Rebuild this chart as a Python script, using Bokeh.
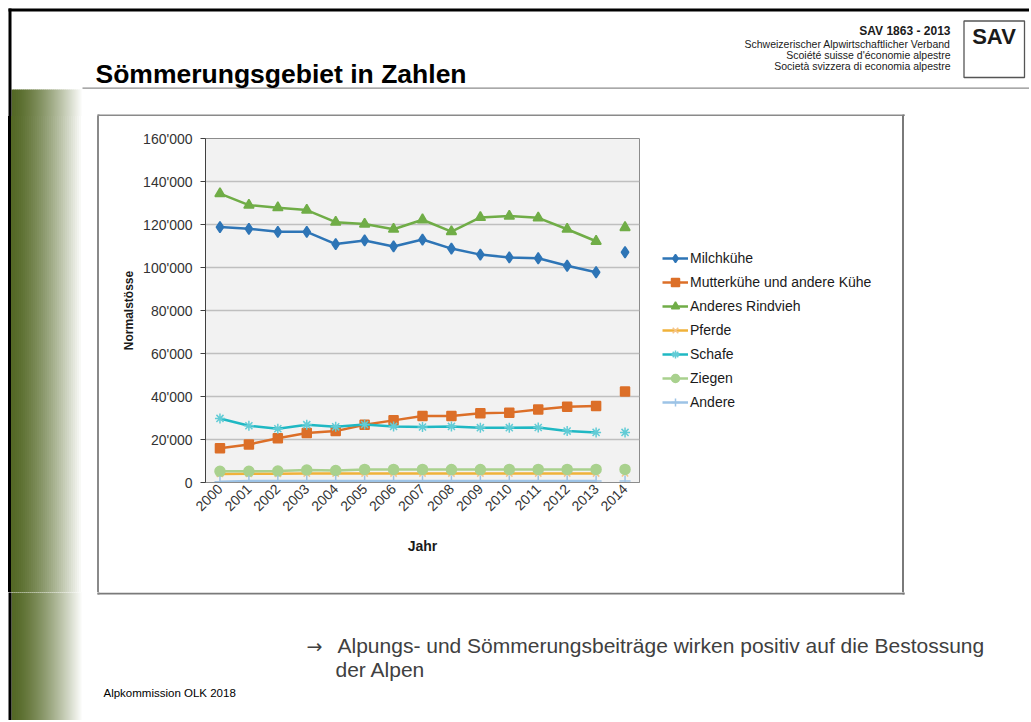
import math
from bokeh.plotting import figure
from bokeh.models import (FactorRange, Range1d, FixedTicker, Legend, LegendItem,
                          ColumnDataSource, Div)
from bokeh.layouts import column, row
from bokeh.core.properties import value
from bokeh.embed import file_html
from bokeh.resources import INLINE

# ---------------- data ----------------
years = ["2000", "2001", "2002", "2003", "2004", "2005", "2006", "2007",
         "2008", "2009", "2010", "2011", "2012", "2013", "2014"]

milchkuehe = [118800, 118000, 116600, 116600, 110900, 112600, 109800, 113000,
              108800, 106000, 104700, 104300, 100800, 97800, 107100]
mutterkuehe = [15900, 17700, 20600, 23000, 23900, 26900, 28900, 30900,
               30900, 32200, 32500, 33900, 35200, 35600, 42300]
anderes_rindvieh = [134400, 129000, 127800, 126700, 121100, 120200, 117800, 122200,
                    116700, 123300, 123900, 123100, 117800, 112200, 118600]
pferde = [4000, 4100, 4100, 4200, 4200, 4200, 4200, 4200,
          4200, 4200, 4200, 4200, 4200, 4200, 4300]
schafe = [29800, 26400, 25000, 26900, 25900, 27000, 26100, 25800,
          26100, 25500, 25500, 25600, 23900, 23300, 23300]
ziegen = [5200, 5200, 5300, 5800, 5600, 6100, 6100, 6100,
          6000, 6000, 6100, 6100, 6100, 6100, 6100]
andere = [300, 700, 700, 700, 700, 700, 700, 700,
          700, 700, 700, 700, 700, 700, 700]

series_names = ["Milchkühe", "Mutterkühe und andere Kühe", "Anderes Rindvieh",
                "Pferde", "Schafe", "Ziegen", "Andere"]
series_values = [milchkuehe, mutterkuehe, anderes_rindvieh, pferde, schafe, ziegen, andere]

y_ticks = [0, 20000, 40000, 60000, 80000, 100000, 120000, 140000, 160000]
y_tick_labels = ["0", "20'000", "40'000", "60'000", "80'000", "100'000",
                 "120'000", "140'000", "160'000"]

# ---------------- styles ----------------
styles = [
    dict(color="#2e75b6", mcolor="#2e75b6", marker="diamond", size=11),
    dict(color="#dc6f28", mcolor="#dc6f28", marker="square", size=9),
    dict(color="#70ad47", mcolor="#70ad47", marker="triangle", size=10),
    dict(color="#f0b23a", mcolor="#f5c48a", marker="x", size=9),
    dict(color="#1fb8c3", mcolor="#62ccd6", marker="asterisk", size=10),
    dict(color="#a9d18e", mcolor="#a9d18e", marker="circle", size=10),
    dict(color="#9dc3e6", mcolor="#9dc3e6", marker="cross", size=11),
]

FONT = "Liberation Sans"
W, H = 1029, 720

# page geometry
BOX_L, BOX_T, BOX_R, BOX_B = 99, 116, 902, 592     # outer chart box
FL, FT, FR, FB = 205, 138, 639, 482                  # plot frame
CH_R = 650                                           # right end of chart figure

DARK = (84, 104, 38)
GX0, GX1 = 11, 83
NG = 36


def grad_color(i, n):
    t = i / (n - 1)
    s = t ** 1.4
    c = tuple(int(round(d * (1 - s) + 255 * s)) for d in DARK)
    return "#%02x%02x%02x" % c


def strip_edges(i, n):
    xa = GX0 + (GX1 - GX0) * i / n
    xb = GX0 + (GX1 - GX0) * (i + 1) / n
    return xa, xb


def deco(x0, x1, y0, y1):
    f = figure(width=x1 - x0, height=y1 - y0,
               x_range=Range1d(x0, x1), y_range=Range1d(y1, y0),
               x_axis_type=None, y_axis_type=None, min_border=0,
               toolbar_location=None, output_backend="svg",
               outline_line_color=None, background_fill_color="white",
               border_fill_color="white")
    f.grid.visible = False
    return f


def rect(f, x0, y0, x1, y1, color):
    f.quad(left=[x0], right=[x1], top=[y0], bottom=[y1],
           fill_color=color, line_color=None)


def frame_line(f, x0, y0, x1, y1, color, lw):
    f.quad(left=[x0], right=[x1], top=[y0], bottom=[y1],
           fill_color=None, line_color=color, line_width=lw)


def txt(f, x, y, s, size, bold=False, align="left", color="#000000", font=FONT):
    # y is the visual centre line of the text
    f.text(x=[x], y=[y], text=[s], text_font=value(font),
           text_font_size=f"{size}px",
           text_font_style="bold" if bold else "normal",
           text_align=align, text_baseline="middle", text_color=color)


def gradient(f):
    for i in range(NG):
        xa, xb = strip_edges(i, NG)
        rect(f, xa, 89, xb + 0.6, 800, grad_color(i, NG))


def decorate(f):
    gradient(f)
    rect(f, 8, 8, 1100, 11, "#000000")           # top black line
    rect(f, 8, 8, 11, 800, "#000000")            # left black line
    rect(f, 82, 87, 1100, 88.2, "#8c8c8c")       # header rule
    # outer chart box border
    rect(f, BOX_L - 2, BOX_T - 2, BOX_R + 2, BOX_T, "#8a8a8a")
    rect(f, BOX_L - 2, BOX_B, BOX_R + 2, BOX_B + 2, "#7a7a7a")
    rect(f, BOX_L - 2, BOX_T - 2, BOX_L, BOX_B + 2, "#8a8a8a")
    rect(f, BOX_R, BOX_T - 2, BOX_R + 2, BOX_B + 2, "#7a7a7a")


# ---------------- header ----------------
top = deco(0, W, 0, BOX_T)
decorate(top)
frame_line(top, 963.5, 20.5, 1024, 77, "#555555", 1.3)
txt(top, 95, 73, "Sömmerungsgebiet in Zahlen", 26.5, bold=True)
txt(top, 950, 30, "SAV 1863 - 2013", 12, bold=True, align="right", color="#1a1a1a")
txt(top, 950, 43, "Schweizerischer Alpwirtschaftlicher Verband", 10.5, align="right", color="#1a1a1a")
txt(top, 950, 54, "Scoiété suisse d'économie alpestre", 10.5, align="right", color="#1a1a1a")
txt(top, 950, 65, "Società svizzera di economia alpestre", 10.5, align="right", color="#1a1a1a")
txt(top, 993.5, 36, "SAV", 22, bold=True, align="center", color="#1a1a1a")

# ---------------- footer ----------------
bottom = deco(0, W, BOX_B, H)
decorate(bottom)
txt(bottom, 306, 645, "\u2192", 19, color="#404040", font="DejaVu Sans")
txt(bottom, 337, 645, "Alpungs- und Sömmerungsbeiträge wirken positiv auf die Bestossung",
    21, color="#404040")
txt(bottom, 335, 669, "der Alpen", 21, color="#404040")
txt(bottom, 103, 692, "Alpkommission OLK 2018", 11.5, color="#000000")

# ---------------- side strips (plain CSS boxes, no text) ----------------
stops = ["#ffffff 0px", "#ffffff 8px", "#000000 8px", "#000000 11px"]
for i in range(NG):
    xa, xb = strip_edges(i, NG)
    c = grad_color(i, NG)
    stops.append(f"{c} {xa:.2f}px")
    stops.append(f"{c} {xb:.2f}px")
stops += ["#ffffff 83px", "#ffffff 97px", "#8a8a8a 97px", "#8a8a8a 99px"]
left = Div(text="", width=BOX_L, height=BOX_B - BOX_T,
           styles={"background": "linear-gradient(to right, " + ", ".join(stops) + ")",
                   "margin": "0", "padding": "0"})
right = Div(text="", width=W - BOX_R, height=BOX_B - BOX_T,
            styles={"background": "linear-gradient(to right, #7a7a7a 0px, #7a7a7a 2px, #ffffff 2px)",
                    "margin": "0", "padding": "0"})

# ---------------- chart ----------------
p = figure(x_range=FactorRange(*years), y_range=Range1d(0, 160000),
           width=CH_R - BOX_L, height=BOX_B - BOX_T,
           min_border_left=FL - BOX_L, min_border_right=CH_R - FR,
           min_border_top=FT - BOX_T, min_border_bottom=BOX_B - FB,
           output_backend="svg", toolbar_location=None,
           background_fill_color="#f2f2f2", border_fill_color="white",
           outline_line_color="#8c8c8c", outline_line_width=1)

for name, vals, st in zip(series_names, series_values, styles):
    src_line = ColumnDataSource(dict(x=years[:-1], y=vals[:-1]))
    src_pts = ColumnDataSource(dict(x=years, y=vals))
    p.line("x", "y", source=src_line, line_color=st["color"], line_width=2.5)
    p.scatter("x", "y", source=src_pts, marker=st["marker"], size=st["size"],
              fill_color=st["mcolor"], line_color=st["mcolor"], line_width=1.5)

p.xgrid.grid_line_color = None
p.ygrid.grid_line_color = "#bfbfbf"
p.ygrid.grid_line_width = 1.5

p.yaxis.ticker = FixedTicker(ticks=y_ticks)
p.yaxis.major_label_overrides = dict(zip(y_ticks, y_tick_labels))
p.yaxis.axis_line_color = "#404040"
p.yaxis.major_tick_line_color = "#404040"
p.yaxis.major_tick_out = 5
p.yaxis.major_tick_in = 0
p.yaxis.minor_tick_line_color = None
p.yaxis.major_label_standoff = 8
p.yaxis.major_label_text_font = FONT
p.yaxis.major_label_text_font_size = "14px"
p.yaxis.major_label_text_color = "#333333"
p.yaxis.axis_label = "Normalstösse"
p.yaxis.axis_label_text_font = FONT
p.yaxis.axis_label_text_font_size = "12px"
p.yaxis.axis_label_text_font_style = "bold"
p.yaxis.axis_label_text_color = "#1a1a1a"
p.yaxis.axis_label_standoff = 4

p.xaxis.axis_line_color = "#8c8c8c"
p.xaxis.major_tick_line_color = None
p.xaxis.major_tick_out = 0
p.xaxis.major_tick_in = 0
p.xaxis.major_label_orientation = math.pi / 4
p.xaxis.major_label_standoff = 4
p.xaxis.major_label_text_font = FONT
p.xaxis.major_label_text_font_size = "14px"
p.xaxis.major_label_text_color = "#333333"
p.xaxis.axis_label = "Jahr"
p.xaxis.axis_label_text_font = FONT
p.xaxis.axis_label_text_font_size = "14px"
p.xaxis.axis_label_text_font_style = "bold"
p.xaxis.axis_label_text_color = "#1a1a1a"
p.xaxis.axis_label_standoff = 19

# ---------------- legend panel (same frame as the chart) ----------------
lg = figure(width=BOX_R - CH_R, height=BOX_B - BOX_T,
            x_range=Range1d(0, 1), y_range=Range1d(0, 1),
            x_axis_type=None, y_axis_type=None,
            min_border_left=0, min_border_right=0,
            min_border_top=FT - BOX_T, min_border_bottom=BOX_B - FB,
            toolbar_location=None, output_backend="svg",
            outline_line_color=None, background_fill_color="white",
            border_fill_color="white")
lg.grid.visible = False
items = []
for name, st in zip(series_names, styles):
    r1 = lg.line(x=[-10, -9], y=[-10, -9], line_color=st["color"], line_width=2.5)
    r2 = lg.scatter(x=[-10], y=[-10], marker=st["marker"], size=st["size"] - 1,
                    fill_color=st["mcolor"], line_color=st["mcolor"], line_width=1.5)
    items.append(LegendItem(label=name, renderers=[r1, r2]))

legend = Legend(items=items, location=(662 - CH_R, FB - 412),
                label_text_font=FONT, label_text_font_size="14px",
                label_text_color="#1a1a1a",
                glyph_width=26, glyph_height=20, label_height=20, spacing=4,
                label_standoff=2, padding=0, margin=0,
                border_line_color=None, background_fill_alpha=0)
lg.add_layout(legend, "center")

layout = column(top, row(left, p, lg, right), bottom)
open("out.html", "w").write(file_html(layout, INLINE))
